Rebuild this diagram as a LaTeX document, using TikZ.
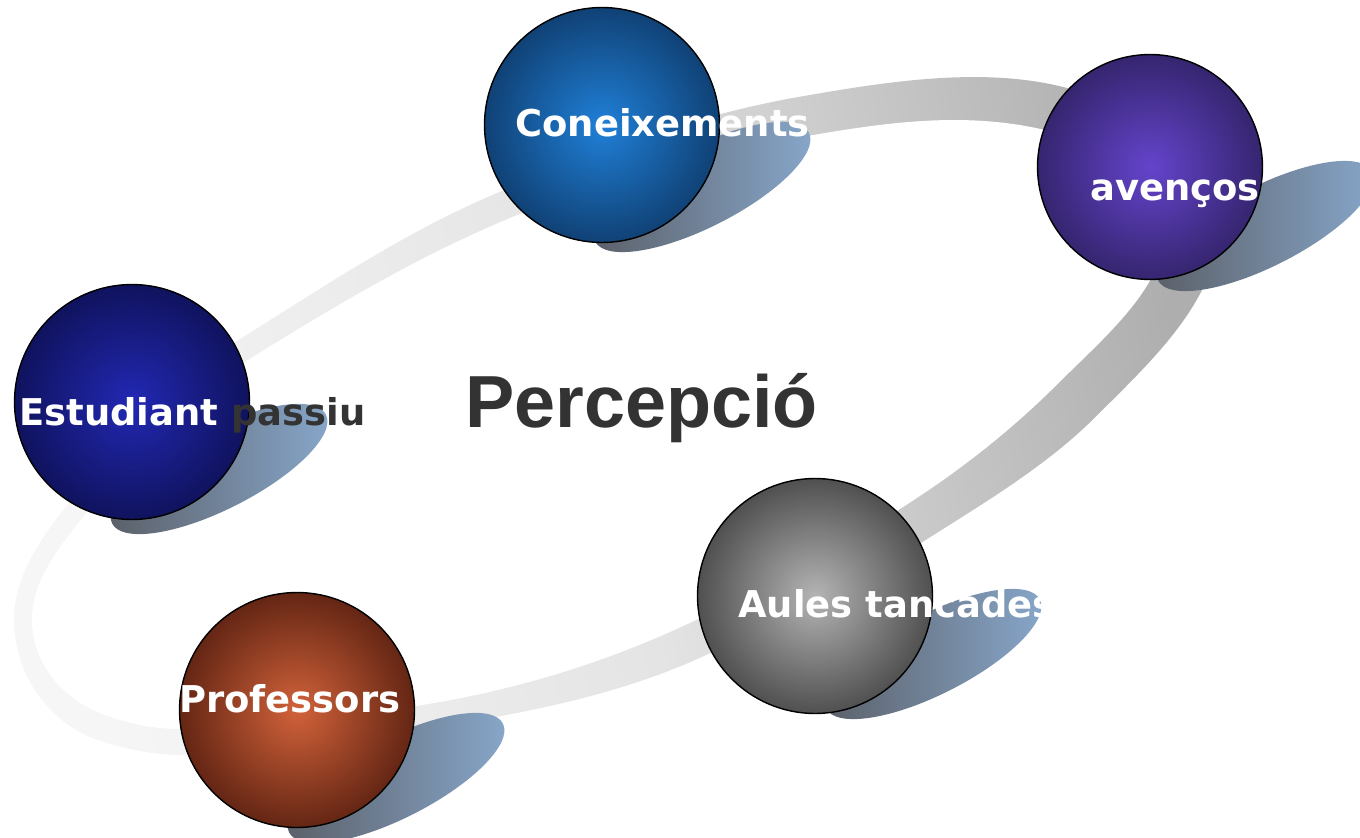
\documentclass[tikz,border=0pt]{standalone}
\usepackage{fontspec}
\setmainfont{DejaVu Sans}
\newfontfamily\titlefont{Liberation Sans}
\usetikzlibrary{shapes.geometric}

\definecolor{ringlight}{HTML}{F6F6F6}
\definecolor{ringmid}{HTML}{E4E4E4}
\definecolor{ringdark}{HTML}{AEAEAE}
\definecolor{shadowdark}{HTML}{5A5E66}
\definecolor{shadowlight}{HTML}{88A8CC}
\definecolor{textgray}{HTML}{333333}
\definecolor{conin}{HTML}{2080D8}\definecolor{conout}{HTML}{0A2B52}
\definecolor{avein}{HTML}{6444CC}\definecolor{aveout}{HTML}{221848}
\definecolor{estin}{HTML}{2228B4}\definecolor{estout}{HTML}{090B3E}
\definecolor{aulin}{HTML}{B4B4B4}\definecolor{aulout}{HTML}{2C2C2C}
\definecolor{proin}{HTML}{D2623A}\definecolor{proout}{HTML}{3C1006}

\begin{document}
\begin{tikzpicture}[x=0.02cm, y=-0.02cm,
    sphere/.style 2 args={circle, draw=black, line width=0.8pt, minimum size=4.7cm, inner sep=0pt,
      path picture={\shade[inner color=#1, outer color=#2] (path picture bounding box.center) circle (160);}},
    blob/.style={ellipse, minimum width=4.8cm, minimum height=1.6cm, rotate=27,
      left color=shadowdark, right color=shadowlight},
    lbl/.style={anchor=base west, inner sep=0pt, text=white,
      font=\bfseries\fontsize{21}{25}\selectfont}]
  \useasboundingbox (0,0) rectangle (1360,838);
  % ring
  \shade[top color=ringdark, bottom color=ringlight, middle color=ringmid, shading angle=-80]
    (234.2,342.7) .. controls +(85,-53) and +(-92,39) .. (494.5,194.1)
    .. controls +(96,-41) and +(-102,18) .. (796.6,97.3)
    .. controls +(86,-15) and +(-84,-22) .. (1065.8,87.7)
    .. controls +(73,19) and +(0,-75) .. (1221,215)
    .. controls +(0,83) and +(59,-59) .. (1094.7,417.7)
    .. controls +(-49,49) and +(58,-37) .. (922.7,541.9)
    .. controls +(-68,43) and +(72,-34) .. (707.6,654.3)
    .. controls +(-89,42) and +(97,-15) .. (418.8,729.9)
    .. controls +(-78,12) and +(79,0) .. (180,755)
    .. controls +(-27,0) and +(25,9) .. (95.6,739.2)
    .. controls +(-49,-18) and +(0,52) .. (14,620)
    .. controls +(0,-46) and +(-29,36) .. (72.2,498.8)
    .. controls +(46,-58) and +(-63,39) .. (234.2,342.7) -- cycle;
  \fill[white]
    (245.8,361.4) .. controls +(85,-53) and +(-92,39) .. (505.5,219.9)
    .. controls +(96,-41) and +(-102,18) .. (803.4,136.7)
    .. controls +(86,-15) and +(-84,-22) .. (1054.3,132.3)
    .. controls +(50,13) and +(0,-52) .. (1169,215)
    .. controls +(0,69) and +(49,-49) .. (1059.3,382.3)
    .. controls +(-49,49) and +(58,-37) .. (901.3,508.1)
    .. controls +(-68,43) and +(72,-34) .. (692.4,621.7)
    .. controls +(-89,42) and +(97,-15) .. (415.2,706.1)
    .. controls +(-78,12) and +(79,0) .. (180,729)
    .. controls +(-27,0) and +(25,9) .. (104.4,714.8)
    .. controls +(-41,-15) and +(0,44) .. (32,620)
    .. controls +(0,-42) and +(-26,33) .. (87.8,511.2)
    .. controls +(46,-58) and +(-63,39) .. (245.8,361.4) -- cycle;
  % shadows
  \node[blob] (conshd) at (702,187) {};
  \node[blob] (aveshd) at (1265,226) {};
  \node[blob] (estshd) at (219,469) {};
  \node[blob] (aulshd) at (933,654) {};
  \node[blob] (proshd) at (396,778) {};
  % spheres
  \node[sphere={conin}{conout}] (con) at (602,125) {};
  \node[sphere={avein}{aveout}, minimum size=4.5cm] (ave) at (1150,167) {};
  \node[sphere={estin}{estout}] (est) at (132,402) {};
  \node[sphere={aulin}{aulout}] (aul) at (815,596) {};
  \node[sphere={proin}{proout}] (pro) at (297,710) {};
  % labels
  \node[lbl] (conlbl) at (515,137) {Coneixements};
  \node[lbl] (avelbl) at (1090,200) {avenços};
  \node[lbl, text=textgray] (estlbl) at (19,425) {\textcolor{white}{Estudiant} passiu};
  \node[lbl] (aullbl) at (738,617) {Aules tancades};
  \node[lbl] (prolbl) at (179,712) {Professors};
  \node[anchor=base west, inner sep=0pt, text=textgray,
    font=\titlefont\bfseries\fontsize{42}{50}\selectfont] (title) at (465,427) {Percepció};
\end{tikzpicture}
\end{document}
